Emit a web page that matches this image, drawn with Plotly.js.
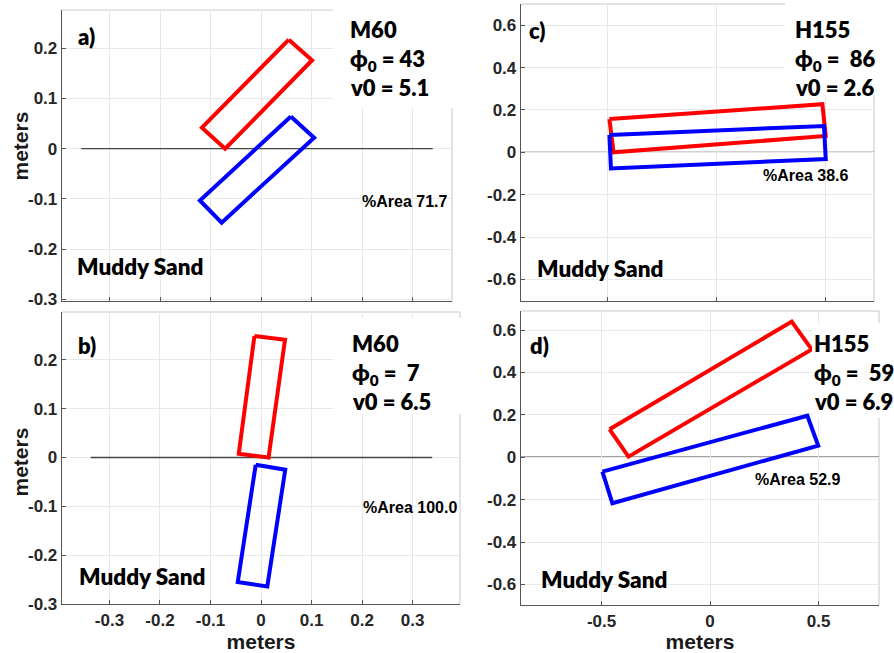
<!DOCTYPE html>
<html>
<head>
<meta charset="utf-8">
<script src="https://cdn.plot.ly/plotly-3.0.1.min.js"></script>
<style>html,body{margin:0;padding:0;background:#fff;}#chart{width:894px;height:653px;}</style>
</head>
<body>
<div id="chart"></div>
<script>
// ---- Data (meters) ----
// Panel a (M60, phi0 = 43, v0 = 5.1)
const aRedX  = [0.055, 0.101, -0.071, -0.117, 0.055];
const aRedY  = [0.217, 0.176, 0.000, 0.042, 0.217];
const aBlueX = [0.059, 0.105, -0.078, -0.121, 0.059];
const aBlueY = [0.064, 0.022, -0.147, -0.103, 0.064];
// Panel b (M60, phi0 = 7, v0 = 6.5)
const bRedX  = [-0.013, 0.0475, 0.015, -0.044, -0.013];
const bRedY  = [0.249, 0.241, 0.000, 0.0076, 0.249];
const bBlueX = [-0.0105, 0.048, 0.0125, -0.046, -0.0105];
const bBlueY = [-0.015, -0.025, -0.264, -0.255, -0.015];
// Panel c (H155, phi0 = 86, v0 = 2.6)
const cRedX  = [-0.492, 0.4835, 0.499, -0.473, -0.492];
const cRedY  = [0.157, 0.227, 0.077, 0.000, 0.157];
const cBlueX = [-0.492, 0.491, 0.499, -0.485, -0.492];
const cBlueY = [0.082, 0.124, -0.032, -0.076, 0.082];
// Panel d (H155, phi0 = 59, v0 = 6.9)
const dRedX  = [-0.463, 0.376, 0.468, -0.376, -0.463];
const dRedY  = [0.132, 0.640, 0.509, 0.003, 0.132];
const dBlueX = [-0.496, 0.448, 0.498, -0.450, -0.496];
const dBlueY = [-0.068, 0.196, 0.055, -0.217, -0.068];
// zero reference lines (x extents)
const aZeroX = [-0.356, 0.340];
const bZeroX = [-0.337, 0.339];
const zeroY  = [0, 0];

// ticks
const smallTickVals = [-0.3, -0.2, -0.1, 0, 0.1, 0.2, 0.3];
const smallTickText = ['-0.3', '-0.2', '-0.1', '0', '0.1', '0.2', '0.3'];
const aYTickVals = [-0.3, -0.2, -0.1, 0, 0.1, 0.2];
const aYTickText = ['-0.3', '-0.2', '-0.1', '0', '0.1', '0.2'];
const bigYTickVals = [-0.6, -0.4, -0.2, 0, 0.2, 0.4, 0.6];
const bigYTickText = ['-0.6', '-0.4', '-0.2', '0', '0.2', '0.4', '0.6'];
const bigXTickVals = [-0.5, 0, 0.5];
const bigXTickText = ['-0.5', '0', '0.5'];

// panel labels
const panelLetters = ['a)', 'b)', 'c)', 'd)'];
const runNames = ['M60', 'M60', 'H155', 'H155'];
const phiValues = ['43', ' 7', ' 86', ' 59'];
const v0Values = ['5.1', '6.5', '2.6', '6.9'];
const areaValues = ['71.7', '100.0', '38.6', '52.9'];
const sediment = 'Muddy Sand';
const axisTitle = 'meters';

// ---- Layout helpers ----
const W = 894, H = 653;
const px = x => x / W;
const py = y => 1 - y / H;

const RED = '#ff0000', BLUE = '#0000ff';
const LW = 4;
function poly(x, y, color, xa, ya) {
  return {x: x, y: y, type: 'scatter', mode: 'lines', xaxis: xa, yaxis: ya,
          line: {color: color, width: LW}, hoverinfo: 'skip', showlegend: false};
}
function zline(x, xa, ya) {
  return {x: x, y: zeroY, type: 'scatter', mode: 'lines', xaxis: xa, yaxis: ya,
          line: {color: '#444444', width: 1.3}, hoverinfo: 'skip', showlegend: false};
}

const data = [
  zline(aZeroX, 'x', 'y'),
  zline(bZeroX, 'x2', 'y2'),
  poly(aRedX, aRedY, RED, 'x', 'y'), poly(aBlueX, aBlueY, BLUE, 'x', 'y'),
  poly(bRedX, bRedY, RED, 'x2', 'y2'), poly(bBlueX, bBlueY, BLUE, 'x2', 'y2'),
  poly(cRedX, cRedY, RED, 'x3', 'y3'), poly(cBlueX, cBlueY, BLUE, 'x3', 'y3'),
  poly(dRedX, dRedY, RED, 'x4', 'y4'), poly(dBlueX, dBlueY, BLUE, 'x4', 'y4')
];

const tickFont = {family: 'Liberation Sans, Arial, sans-serif', size: 17, color: '#262626', weight: 700};
const titleFont = {family: 'Liberation Sans, Arial, sans-serif', size: 21, color: '#1a1a1a', weight: 700};
const gridC = '#e8e8e8';
const axisC = '#555555';

function xaxis(domain, range, vals, text, showLabels, anchor, title) {
  const ax = {domain: domain, range: range, anchor: anchor, tickmode: 'array', tickvals: vals,
    ticktext: text, showticklabels: showLabels, ticks: 'inside', ticklen: 4, tickcolor: axisC,
    showgrid: true, gridcolor: gridC, gridwidth: 1, zeroline: false, showline: true,
    linecolor: axisC, linewidth: 1.3, tickfont: tickFont, fixedrange: true};
  if (title) { ax.title = {text: title, font: titleFont, standoff: 0}; }
  return ax;
}
function yaxis(domain, range, vals, text, anchor) {
  return {domain: domain, range: range, anchor: anchor, tickmode: 'array', tickvals: vals,
    ticktext: text, ticks: 'inside', ticklen: 4, tickcolor: axisC,
    showgrid: true, gridcolor: gridC, gridwidth: 1, zeroline: false, showline: true,
    linecolor: axisC, linewidth: 1.3, tickfont: tickFont, fixedrange: true};
}

// panel pixel boxes [left, right, top, bottom]
const boxA = [62, 452, 10, 301];
const boxB = [62, 460, 312, 604];
const boxC = [521, 874, 4, 301];
const boxD = [521, 879, 311, 605];
const dom = b => ({x: [px(b[0]), px(b[1])], y: [py(b[3]), py(b[2])]});

const layout = {
  width: W, height: H, margin: {l: 0, r: 0, t: 0, b: 0},
  paper_bgcolor: '#ffffff', plot_bgcolor: '#ffffff', showlegend: false,
  xaxis:  xaxis(dom(boxA).x, [-0.394, 0.378], smallTickVals, smallTickText, false, 'y'),
  yaxis:  yaxis(dom(boxA).y, [-0.303, 0.276], aYTickVals, aYTickText, 'x'),
  xaxis2: xaxis(dom(boxB).x, [-0.394, 0.394], smallTickVals, smallTickText, true, 'y2', axisTitle),
  yaxis2: yaxis(dom(boxB).y, [-0.300, 0.298], aYTickVals, aYTickText, 'x2'),
  xaxis3: xaxis(dom(boxC).x, [-0.897, 0.720], bigXTickVals, bigXTickText, false, 'y3'),
  yaxis3: yaxis(dom(boxC).y, [-0.702, 0.700], bigYTickVals, bigYTickText, 'x3'),
  xaxis4: xaxis(dom(boxD).x, [-0.871, 0.778], bigXTickVals, bigXTickText, true, 'y4', axisTitle),
  yaxis4: yaxis(dom(boxD).y, [-0.697, 0.690], bigYTickVals, bigYTickText, 'x4'),
  shapes: [],
  annotations: []
};

// light top/right frame lines
[['x', 'y'], ['x2', 'y2'], ['x3', 'y3'], ['x4', 'y4']].forEach(([xa, ya]) => {
  layout.shapes.push({type: 'line', xref: xa + ' domain', yref: ya + ' domain', x0: 0, x1: 1, y0: 1, y1: 1,
    line: {color: '#c8c8c8', width: 1}, layer: 'below'});
  layout.shapes.push({type: 'line', xref: xa + ' domain', yref: ya + ' domain', x0: 1, x1: 1, y0: 0, y1: 1,
    line: {color: '#c8c8c8', width: 1}, layer: 'below'});
});
// zero line across full width for panels c and d
layout.shapes.push({type: 'line', xref: 'x3 domain', yref: 'y3', x0: 0, x1: 1, y0: 0, y1: 0,
  line: {color: '#444444', width: 1.3}, layer: 'below'});
layout.shapes.push({type: 'line', xref: 'x4 domain', yref: 'y4', x0: 0, x1: 1, y0: 0, y1: 0,
  line: {color: '#444444', width: 1.3}, layer: 'below'});

// white info boxes (pixel boxes: left, right, top, bottom)
const infoBoxes = [[333, 456, 6, 108], [333, 462, 318, 414], [785, 885, 3, 95], [812, 894, 323, 418]];
infoBoxes.forEach(b => {
  layout.shapes.push({type: 'rect', xref: 'paper', yref: 'paper', x0: px(b[0]), x1: px(b[1]),
    y0: py(b[3]), y1: py(b[2]), fillcolor: '#ffffff', line: {width: 0}, layer: 'above'});
});

const labFont = {family: 'Lato, Open Sans, sans-serif', size: 22, color: '#000000', weight: 800};
const sandFont = {family: 'Lato, Open Sans, sans-serif', size: 22.5, color: '#000000', weight: 800};
const areaFont = {family: 'Liberation Sans, Arial, sans-serif', size: 16, color: '#000000', weight: 700};
function ann(text, x, y, font, xanchor, angle) {
  layout.annotations.push({text: text, xref: 'paper', yref: 'paper', x: px(x), y: py(y),
    xanchor: xanchor || 'left', yanchor: 'middle', showarrow: false, font: font, textangle: angle || 0});
}
// y-axis titles of the left column
ann(axisTitle, 19.5, 146, titleFont, 'center', -90);
ann(axisTitle, 19.5, 462, titleFont, 'center', -90);

// per-panel text positions (pixels)
const letterPos = [[76, 37], [76, 345], [527, 30], [528, 345]];
const infoLeft = [348, 350, 793, 812];
const infoTop = [29, 343, 29, 343];
const areaPos = [[360, 201], [361, 507], [761, 175], [753, 479]];
const sandPos = [[75, 266], [77, 576], [535, 268], [539, 579]];
for (let i = 0; i < 4; i++) {
  ann(panelLetters[i], letterPos[i][0], letterPos[i][1], labFont);
  ann(runNames[i], infoLeft[i], infoTop[i], labFont);
  ann('ϕ<sub>0</sub> = ' + phiValues[i], infoLeft[i], infoTop[i] + 31, labFont);
  ann('v0 = ' + v0Values[i], infoLeft[i], infoTop[i] + 58, labFont);
  ann('%Area ' + areaValues[i], areaPos[i][0], areaPos[i][1], areaFont);
  ann(sediment, sandPos[i][0], sandPos[i][1], sandFont);
}

Plotly.newPlot('chart', data, layout, {staticPlot: true, displayModeBar: false});
</script>
</body>
</html>
